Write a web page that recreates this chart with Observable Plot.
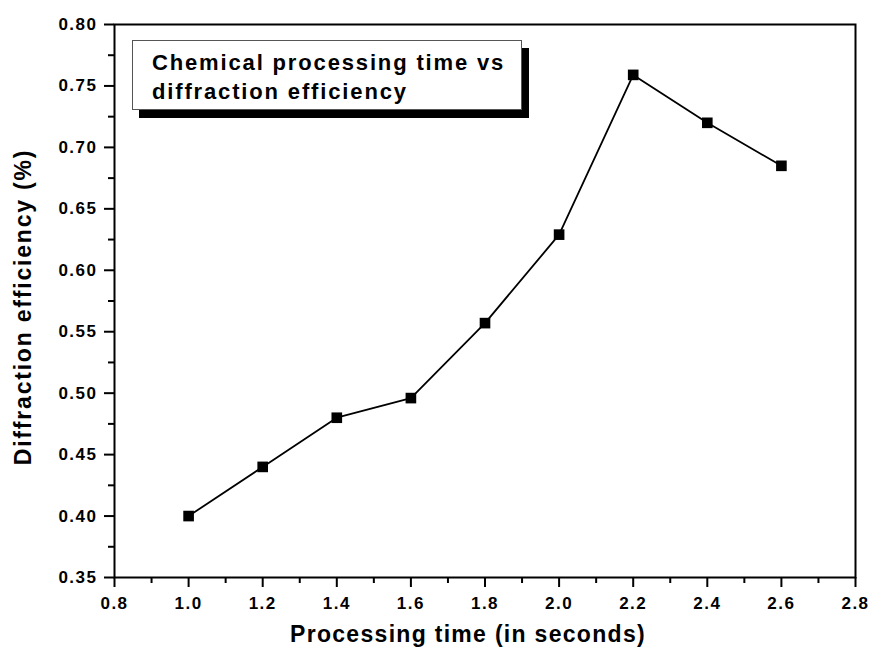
<!DOCTYPE html>
<html>
<head>
<meta charset="utf-8">
<script src="https://cdn.jsdelivr.net/npm/d3@7"></script>
<script src="https://cdn.jsdelivr.net/npm/@observablehq/plot@0.6"></script>
<style>
  html, body { margin: 0; padding: 0; background: #fff; }
  #wrap { position: relative; width: 872px; height: 655px; font-family: "Liberation Sans", Arial, sans-serif; }
  #legend {
    position: absolute; left: 132px; top: 40px; width: 390px; height: 70px;
    border: 1.5px solid #555; background: #fff; box-shadow: 7px 8px 0 #000;
    box-sizing: border-box; padding: 7px 0 0 19px;
    font-weight: bold; font-size: 22px; line-height: 29px; color: #000; letter-spacing: 1.85px;
  }
  g[aria-label="x-axis tick label"] text, g[aria-label="y-axis tick label"] text { letter-spacing: 1.5px; }
  .axlabel text { letter-spacing: 1.3px; }
  .ylab text { letter-spacing: 1.8px; }
</style>
</head>
<body>
<div id="wrap"></div>
<script>
const times = [1.0, 1.2, 1.4, 1.6, 1.8, 2.0, 2.2, 2.4, 2.6];
const efficiency = [0.400, 0.440, 0.480, 0.496, 0.557, 0.629, 0.759, 0.720, 0.685];
const xTicks = [0.8, 1.0, 1.2, 1.4, 1.6, 1.8, 2.0, 2.2, 2.4, 2.6, 2.8];
const xMinor = [0.9, 1.1, 1.3, 1.5, 1.7, 1.9, 2.1, 2.3, 2.5, 2.7];
const yTicks = [0.35, 0.40, 0.45, 0.50, 0.55, 0.60, 0.65, 0.70, 0.75, 0.80];
const yMinor = [0.375, 0.425, 0.475, 0.525, 0.575, 0.625, 0.675, 0.725, 0.775];
const xLabel = "Processing time (in seconds)";
const yLabel = "Diffraction efficiency (%)";
const legendLines = ["Chemical processing time vs", "diffraction efficiency"];

const data = times.map((t, i) => ({t, e: efficiency[i]}));

const chart = Plot.plot({
  width: 872,
  height: 655,
  marginLeft: 114,
  marginRight: 17,
  marginTop: 24,
  marginBottom: 78,
  style: {fontFamily: "'Liberation Sans', Arial, sans-serif", background: "#fff", color: "#000"},
  x: {domain: [0.8, 2.8]},
  y: {domain: [0.35, 0.80]},
  marks: [
    Plot.axisX({ticks: xTicks, tickFormat: d3.format(".1f"), tickSize: 10, tickPadding: 9, strokeWidth: 2, fontSize: 17, fontWeight: "bold", label: null}),
    Plot.axisX({ticks: xMinor, tickSize: 6, strokeWidth: 2, text: null, label: null}),
    Plot.axisY({ticks: yTicks, tickFormat: d3.format(".2f"), tickSize: 10, tickPadding: 7, strokeWidth: 2, fontSize: 17, fontWeight: "bold", label: null}),
    Plot.axisY({ticks: yMinor, tickSize: 6, strokeWidth: 2, text: null, label: null}),
    Plot.frame({stroke: "#000", strokeWidth: 2}),
    Plot.line(data, {x: "t", y: "e", stroke: "#000", strokeWidth: 1.8}),
    Plot.dot(data, {x: "t", y: "e", symbol: "square", r: 6, fill: "#000", stroke: "none"}),
    Plot.text([xLabel], {frameAnchor: "bottom", dx: -17, dy: 64, fontSize: 23, fontWeight: "bold", fill: "#000", className: "axlabel"}),
    Plot.text([yLabel], {frameAnchor: "left", textAnchor: "middle", dx: -91, dy: 6, rotate: -90, fontSize: 23, fontWeight: "bold", fill: "#000", className: "ylab"})
  ]
});
const wrap = document.getElementById("wrap");
wrap.appendChild(chart);
const leg = document.createElement("div");
leg.id = "legend";
leg.innerHTML = legendLines.join("<br>");
wrap.appendChild(leg);
</script>
</body>
</html>
